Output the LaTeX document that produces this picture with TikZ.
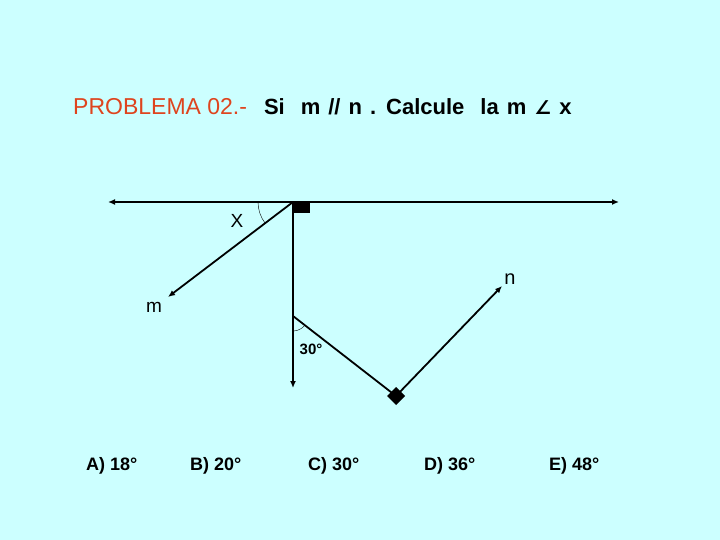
\documentclass[tikz,border=0pt]{standalone}
\usepackage{fontspec}
\setmainfont{Liberation Sans}
\newfontfamily\symfont{DejaVu Sans}
\usetikzlibrary{arrows.meta}
\definecolor{bgcyan}{RGB}{204,255,255}
\definecolor{titlered}{RGB}{222,68,30}
\begin{document}
\begin{tikzpicture}[x=1pt, y=-1pt,
          ray/.style = {draw, line width=1.8pt, -{Latex[length=7pt,width=6pt]}},
          seg/.style = {draw, line width=1.8pt},
          lbl/.style = {inner sep=0pt, font=\fontsize{19}{19}\selectfont},
          answer/.style = {inner sep=0pt, anchor=west, font=\bfseries\fontsize{18}{18}\selectfont}
          ]
          \fill[bgcyan] (0,0) rectangle (720,540);
          % title
          \node[anchor=west, inner sep=0pt, font=\fontsize{23}{23}\selectfont] (title) at (73,107)
            {\color{titlered}PROBLEMA 02.-\hspace{17pt}\color{black}\bfseries\fontsize{22}{22}\selectfont
             \spaceskip=8pt Si\ \ m // n . Calcule\ \ la m {\symfont\fontsize{19}{19}\selectfont ∠} x};
          % points
          \coordinate (P) at (293,202);
          \coordinate (L) at (108,202);
          \coordinate (R) at (619,202);
          \coordinate (M) at (168,297);
          \coordinate (D) at (293,388);
          \coordinate (Q) at (293,316);
          \coordinate (V) at (396,396);
          \coordinate (N) at (502,286);
          % lines
          \draw[ray] (P) -- (L);
          \draw[ray] (P) -- (R);
          \draw[ray] (P) -- (M);
          \draw[ray] (P) -- (D);
          \draw[seg] (Q) -- (V);
          \draw[ray] (V) -- (N);
          % right angle marks
          \fill (P) rectangle (310,213);
          \fill (V) ++(0,-9) -- ++(9,9) -- ++(-9,9) -- ++(-9,-9) -- cycle;
          % angles
          \draw[thin] (P) ++(180:35) arc[start angle=180, end angle=143, radius=35];
          \draw[thin] (Q) ++(90:15) arc[start angle=90, end angle=38, radius=15];
          % labels
          \node[lbl] (xlab) at (237,221) {X};
          \node[lbl] (mlab) at (154,307) {m};
          \node[lbl, font=\fontsize{20}{20}\selectfont] (nlab) at (510,279) {n};
          \node[lbl, font=\bfseries\fontsize{15}{15}\selectfont] (alab) at (311,349) {30°};
          % choices
          \node[answer] (a) at (86,466) {A) 18°};
          \node[answer] (b) at (190,466) {B) 20°};
          \node[answer] (c) at (308,466) {C) 30°};
          \node[answer] (d) at (424,466) {D) 36°};
          \node[answer] (e) at (549,466) {E) 48°};
\end{tikzpicture}
\end{document}
